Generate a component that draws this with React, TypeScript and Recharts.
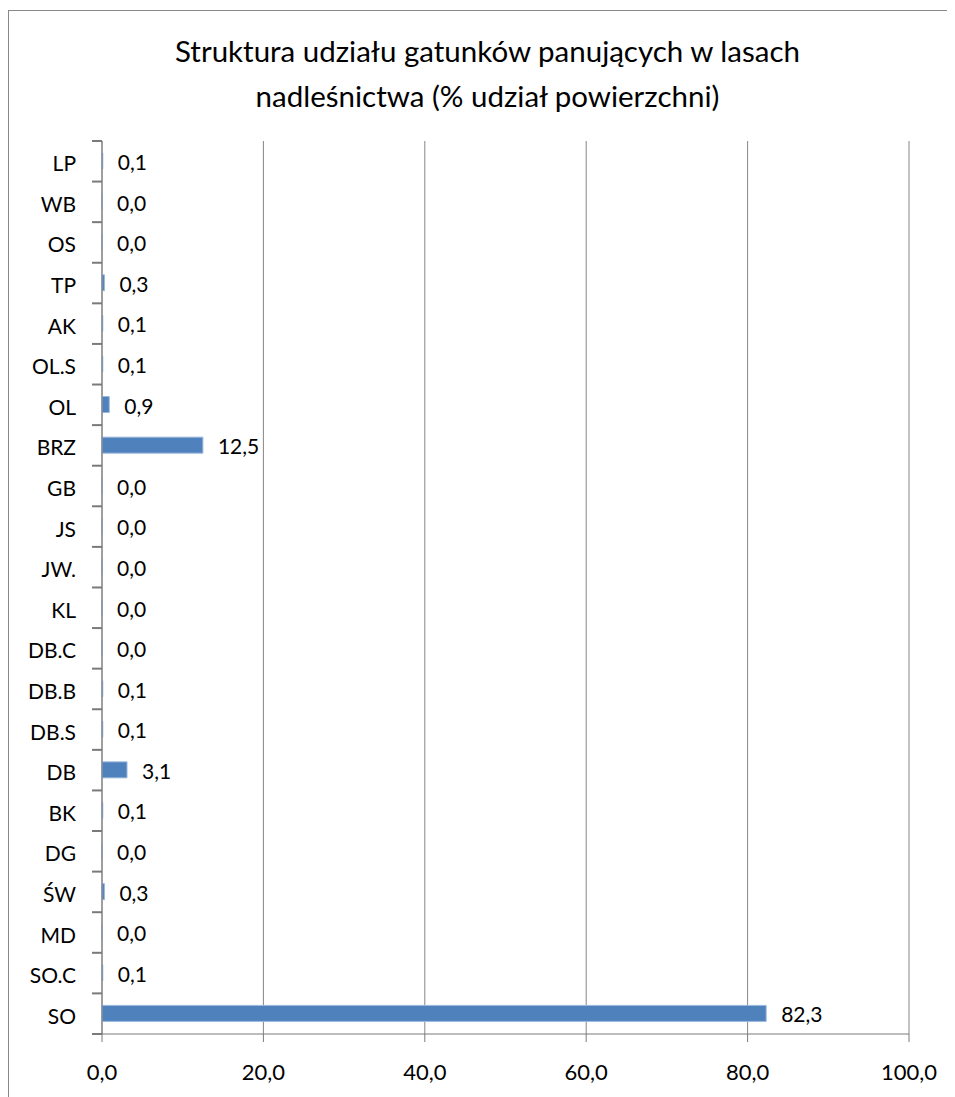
import { Bar, BarChart, CartesianGrid, LabelList, XAxis, YAxis } from "recharts";

const CATEGORIES = [
  "LP", "WB", "OS", "TP", "AK", "OL.S", "OL", "BRZ", "GB", "JS", "JW.",
  "KL", "DB.C", "DB.B", "DB.S", "DB", "BK", "DG", "ŚW", "MD", "SO.C", "SO",
];
const SHARES = [
  0.1, 0.0, 0.0, 0.3, 0.1, 0.1, 0.9, 12.5, 0.0, 0.0, 0.0,
  0.0, 0.0, 0.1, 0.1, 3.1, 0.1, 0.0, 0.3, 0.0, 0.1, 82.3,
];
const X_TICKS = [0, 20, 40, 60, 80, 100];

const FONT = "Lato, 'Open Sans', sans-serif";
const W = 960;
const H = 1100;
const TOP = 131;
const BOTTOM = 1025;
const HALF_BAND = (BOTTOM - TOP) / CATEGORIES.length / 2;

const fmt = (v: number) => v.toFixed(1).replace(".", ",");

// Excel-style category ticks: marks sit between categories, not at their centres
function CatTick(props: any) {
  const x = Number(props.x);
  const y = Number(props.y);
  const { payload, index } = props;
  const last = index === CATEGORIES.length - 1;
  return (
    <g>
      <path d={`M${x - 10},${y - HALF_BAND}H${x}`} stroke="#7a7a7a" strokeWidth={2} fill="none" />
      {last && <path d={`M${x - 10},${y + HALF_BAND}H${x}`} stroke="#7a7a7a" strokeWidth={2} fill="none" />}
      <text x={x - 26} y={y} dy={10} textAnchor="end" fontSize={21} fill="#000" fontFamily={FONT}>
        {payload.value}
      </text>
    </g>
  );
}

function ValueLabel(props: any) {
  const { x, y, width, height, value } = props;
  return (
    <text x={x + width + 15} y={y + height / 2} dy={9} fontSize={21} fill="#000" fontFamily={FONT}>
      {fmt(Number(value))}
    </text>
  );
}

export default function App() {
  const data = CATEGORIES.map((c, i) => ({ name: c, value: SHARES[i] }));
  return (
    <div style={{ paddingTop: 2 }}>
      <div
        style={{
          position: "relative",
          width: W,
          height: H,
          border: "1px solid #888",
          boxSizing: "border-box",
          background: "#fff",
        }}
      >
        <div
          style={{
            position: "absolute",
            top: 17,
            left: 5,
            width: 947,
            textAlign: "center",
            fontFamily: FONT,
            fontSize: 29.5,
            lineHeight: "45px",
            color: "#000",
          }}
        >
          Struktura udziału gatunków panujących w lasach
          <br />
          nadleśnictwa (% udział powierzchni)
        </div>
        <BarChart
          width={W - 2}
          height={H - 2}
          data={data}
          layout="vertical"
          barSize={16}
          margin={{ top: TOP - 1, right: 58, bottom: 45, left: 0 }}
        >
          <CartesianGrid horizontal={false} stroke="#868686" strokeDasharray="" />
          <XAxis
            type="number"
            domain={[0, 100]}
            ticks={X_TICKS}
            interval={0}
            height={30}
            tickFormatter={fmt}
            stroke="#7a7a7a"
            tickSize={8}
            tick={{ fontSize: 22, fill: "#000", fontFamily: FONT, dy: 20 }}
          />
          <YAxis
            type="category"
            dataKey="name"
            width={93}
            interval={0}
            stroke="#7a7a7a"
            tickLine={false}
            tickSize={0}
            tickMargin={0}
            tick={<CatTick />}
          />
          <Bar
            dataKey="value"
            fill="#4F81BD"
            stroke="#9bb7dc"
            strokeWidth={1}
            minPointSize={0.01}
            isAnimationActive={false}
          >
            <LabelList dataKey="value" content={<ValueLabel />} />
          </Bar>
        </BarChart>
      </div>
    </div>
  );
}
